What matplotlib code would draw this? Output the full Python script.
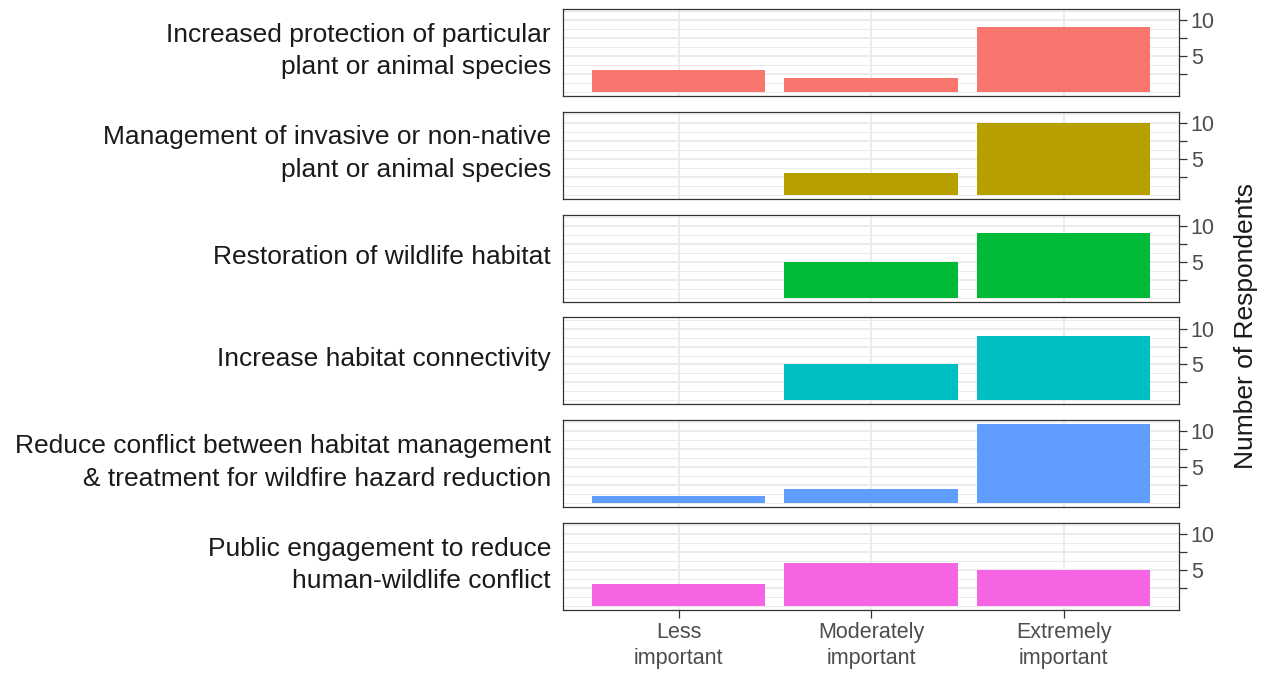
import matplotlib
matplotlib.use("Agg")
import matplotlib.pyplot as plt
from matplotlib.ticker import FixedLocator

plt.rcParams["font.family"] = ["Liberation Sans", "DejaVu Sans"]

# Dados
categories = ["Less\nimportant", "Moderately\nimportant", "Extremely\nimportant"]
facets = [
    "Increased protection of particular\nplant or animal species",
    "Management of invasive or non-native\nplant or animal species",
    "Restoration of wildlife habitat",
    "Increase habitat connectivity",
    "Reduce conflict between habitat management\n& treatment for wildfire hazard reduction",
    "Public engagement to reduce\nhuman-wildlife conflict",
]
protection = [3, 2, 9]
invasive = [0, 3, 10]
restoration = [0, 5, 9]
connectivity = [0, 5, 9]
wildfire = [1, 2, 11]
engagement = [3, 6, 5]
colors = ["#F8766D", "#B79F00", "#00BA38", "#00BFC4", "#619CFF", "#F564E3"]

series = [protection, invasive, restoration, connectivity, wildfire, engagement]

W, H = 1267, 673
fig = plt.figure(figsize=(W / 100, H / 100), dpi=100)

# posição dos painéis em pixels
x0, x1 = 563, 1179
panel_h = 87
step = 102.8
ymax = 11
pad = 0.05 * ymax

for i, (label, vals, col) in enumerate(zip(facets, series, colors)):
    top = 9 + i * step
    ax = fig.add_axes([x0 / W, 1 - (top + panel_h) / H, (x1 - x0) / W, panel_h / H])
    ax.set_axisbelow(True)
    ax.bar(range(3), vals, width=0.9, color=col, zorder=2)
    ax.set_xlim(-0.6, 2.6)
    ax.set_ylim(-pad, ymax + pad)

    ax.yaxis.tick_right()
    ax.yaxis.set_major_locator(FixedLocator([2.5, 5, 7.5, 10]))
    ax.set_yticklabels(["", "5", "", "10"])
    ax.yaxis.set_minor_locator(FixedLocator([0, 1.25, 3.75, 6.25, 8.75, 11.25]))
    ax.set_xticks(range(3))

    ax.grid(which="major", color="#EBEBEB", lw=1.3)
    ax.grid(which="minor", axis="y", color="#EBEBEB", lw=0.7)
    ax.tick_params(axis="y", which="minor", length=0)
    ax.tick_params(axis="both", which="major", length=5.5, width=0.9,
                   color="#333333", labelcolor="#4D4D4D", labelsize=15.5, pad=3)
    for s in ax.spines.values():
        s.set_color("#333333")
        s.set_linewidth(0.9)

    if i < len(facets) - 1:
        ax.tick_params(axis="x", which="both", length=0, labelbottom=False)
    else:
        ax.set_xticklabels(categories, linespacing=1.32)

    fig.text(551 / W, 1 - (top + panel_h / 2 - 1.5) / H, label, ha="right", va="center",
             fontsize=19, color="#1A1A1A", linespacing=1.47)

fig.text(1246 / W, 1 - 326 / H, "Number of Respondents", rotation=90,
         ha="center", va="center", fontsize=19, color="#1A1A1A")

fig.savefig("out.png", dpi=100)
